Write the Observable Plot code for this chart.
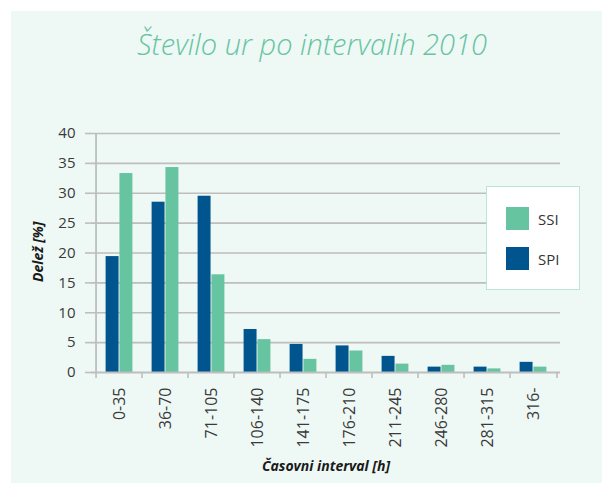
<!DOCTYPE html>
<html>
<head>
<meta charset="utf-8">
<script src="https://cdn.jsdelivr.net/npm/d3@7"></script>
<script src="https://cdn.jsdelivr.net/npm/@observablehq/plot@0.6"></script>
<style>
  html, body { margin: 0; padding: 0; background: #ffffff; }
  #wrap { position: relative; width: 602px; height: 483px; overflow: hidden; font-family: "Open Sans", sans-serif; }
  #panel { position: absolute; left: 11px; top: 11px; width: 591px; height: 472px; background: #EEF8F5; }
  #title { position: absolute; left: 0; width: 624px; top: 24px; text-align: center; font-style: italic; font-weight: 300; font-size: 29px; line-height: 40px; color: #66C4A0; white-space: nowrap; }
  #chart { position: absolute; left: 0; top: 0; }
  #legend { position: absolute; left: 486px; top: 186px; width: 92px; height: 102px; background: #ffffff; border: 1.5px solid #B9E6D6; }
  .item { position: absolute; left: 19px; display: flex; align-items: center; font-size: 15px; color: #333; }
  .sw { width: 23px; height: 23px; margin-right: 9px; }
</style>
</head>
<body>
<div id="wrap">
  <div id="panel"></div>
  <div id="title">Število ur po intervalih 2010</div>
  <div id="chart"></div>
  <div id="legend"></div>
</div>
<script>
// ---- data ----
const categories = ["0-35", "36-70", "71-105", "106-140", "141-175", "176-210", "211-245", "246-280", "281-315", "316-"];
const spiValues = [19.4, 28.5, 29.5, 7.2, 4.7, 4.45, 2.7, 0.9, 0.9, 1.7];
const ssiValues = [33.3, 34.3, 16.35, 5.5, 2.2, 3.6, 1.4, 1.2, 0.6, 0.9];
const yTicks = [0, 5, 10, 15, 20, 25, 30, 35, 40];
const seriesNames = ["SSI", "SPI"];
const seriesColors = ["#66C4A0", "#01558E"];
const yTitle = "Delež [%]";
const xTitle = "Časovni interval [h]";

// ---- layout ----
const W = 602, H = 483;
const mL = 91, mR = 42, mT = 133, mB = 111;
const bw = (W - mL - mR) / categories.length;
const gridColor = "#BEBEBE";

const spiRows = categories.map((c, i) => ({cat: c, value: spiValues[i]}));
const ssiRows = categories.map((c, i) => ({cat: c, value: ssiValues[i]}));

const chart = Plot.plot({
  width: W,
  height: H,
  marginLeft: mL,
  marginRight: mR,
  marginTop: mT,
  marginBottom: mB,
  style: {background: "transparent", fontFamily: "Open Sans, sans-serif", overflow: "visible"},
  x: {type: "band", domain: categories, padding: 0},
  y: {domain: [0, 40]},
  marks: [
    Plot.gridY(yTicks.slice(1), {stroke: gridColor, strokeOpacity: 1, strokeWidth: 1.6}),
    Plot.barY(spiRows, {x: "cat", y: "value", fill: seriesColors[1], insetLeft: 9.6, insetRight: 23.45}),
    Plot.barY(ssiRows, {x: "cat", y: "value", fill: seriesColors[0], insetLeft: 23.45, insetRight: 9.6}),
    // axis lines
    Plot.ruleY([0], {stroke: gridColor, strokeWidth: 1.8}),
    Plot.ruleX([categories[0]], {dx: -bw / 2, stroke: gridColor, strokeWidth: 1.8}),
    // category boundary ticks
    Plot.ruleX(categories, {x: d => d, dx: -bw / 2, y1: 0, y2: 0, insetBottom: -6, stroke: gridColor, strokeWidth: 1.6}),
    Plot.ruleX([categories[categories.length - 1]], {dx: bw / 2, y1: 0, y2: 0, insetBottom: -6, stroke: gridColor, strokeWidth: 1.6}),
    Plot.axisY(yTicks, {tickSize: 6, tickPadding: 10, stroke: gridColor, strokeWidth: 1.6, fill: "#3a3a3a", fontSize: 15, label: null}),
    Plot.axisX({tickSize: 0, tickPadding: 15, tickRotate: -90, fill: "#3a3a3a", fontSize: 16, label: null}),
    Plot.text([yTitle], {frameAnchor: "left", dx: -53, dy: 29, rotate: -90, fontWeight: "bold", fontStyle: "italic", fontSize: 14, fill: "#1a1a1a"}),
    Plot.text([xTitle], {frameAnchor: "bottom", lineAnchor: "middle", dy: 94, fontWeight: "bold", fontStyle: "italic", fontSize: 14, fill: "#1a1a1a"})
  ]
});
document.getElementById("chart").appendChild(chart);

// legend
const legend = document.getElementById("legend");
seriesNames.forEach((name, i) => {
  const item = document.createElement("div");
  item.className = "item";
  item.style.top = (20 + i * 40) + "px";
  const sw = document.createElement("div");
  sw.className = "sw";
  sw.style.background = seriesColors[i];
  const label = document.createElement("span");
  label.textContent = name;
  item.appendChild(sw);
  item.appendChild(label);
  legend.appendChild(item);
});
</script>
</body>
</html>
